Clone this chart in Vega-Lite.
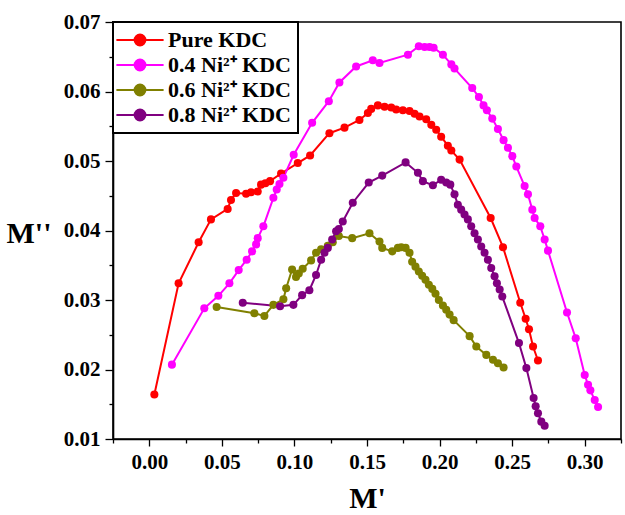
{
  "$schema": "https://vega.github.io/schema/vega-lite/v6.json",
  "width": 508,
  "height": 417,
  "autosize": {"type": "none"},
  "padding": {"left": 113, "top": 22, "right": 4, "bottom": 76},
  "background": "white",
  "config": {
    "view": {"stroke": "#000", "strokeWidth": 1.6},
    "font": "Liberation Serif",
    "axis": {
      "grid": false,
      "domainColor": "#000",
      "domainWidth": 1.6,
      "tickColor": "#000",
      "tickWidth": 1.3,
      "labelFont": "Liberation Serif",
      "labelFontWeight": "bold",
      "labelFontSize": 21,
      "labelColor": "#000",
      "labelOverlap": false,
      "labelFlush": false,
      "titleFont": "Liberation Serif",
      "titleFontWeight": "bold",
      "titleFontSize": 30,
      "titleColor": "#000"
    }
  },
  "data": {
    "values": [
      {"sample": "Pure KDC", "i": 1, "re": 0.0035, "im": 0.0164},
      {"sample": "Pure KDC", "i": 2, "re": 0.0202, "im": 0.0324},
      {"sample": "Pure KDC", "i": 3, "re": 0.034, "im": 0.0383},
      {"sample": "Pure KDC", "i": 4, "re": 0.0425, "im": 0.0416},
      {"sample": "Pure KDC", "i": 5, "re": 0.054, "im": 0.0431},
      {"sample": "Pure KDC", "i": 6, "re": 0.0563, "im": 0.0444},
      {"sample": "Pure KDC", "i": 7, "re": 0.0598, "im": 0.0454},
      {"sample": "Pure KDC", "i": 8, "re": 0.0667, "im": 0.0453},
      {"sample": "Pure KDC", "i": 9, "re": 0.0701, "im": 0.0455},
      {"sample": "Pure KDC", "i": 10, "re": 0.0747, "im": 0.0456},
      {"sample": "Pure KDC", "i": 11, "re": 0.077, "im": 0.0466},
      {"sample": "Pure KDC", "i": 12, "re": 0.08, "im": 0.0468},
      {"sample": "Pure KDC", "i": 13, "re": 0.0832, "im": 0.0471},
      {"sample": "Pure KDC", "i": 14, "re": 0.0908, "im": 0.0482},
      {"sample": "Pure KDC", "i": 15, "re": 0.1023, "im": 0.0497},
      {"sample": "Pure KDC", "i": 16, "re": 0.1108, "im": 0.0508},
      {"sample": "Pure KDC", "i": 17, "re": 0.1241, "im": 0.054},
      {"sample": "Pure KDC", "i": 18, "re": 0.1345, "im": 0.0548},
      {"sample": "Pure KDC", "i": 19, "re": 0.1448, "im": 0.0559},
      {"sample": "Pure KDC", "i": 20, "re": 0.1506, "im": 0.0569},
      {"sample": "Pure KDC", "i": 21, "re": 0.1529, "im": 0.0575},
      {"sample": "Pure KDC", "i": 22, "re": 0.1575, "im": 0.058},
      {"sample": "Pure KDC", "i": 23, "re": 0.1621, "im": 0.0578},
      {"sample": "Pure KDC", "i": 24, "re": 0.1667, "im": 0.0577},
      {"sample": "Pure KDC", "i": 25, "re": 0.1701, "im": 0.0574},
      {"sample": "Pure KDC", "i": 26, "re": 0.1747, "im": 0.0573},
      {"sample": "Pure KDC", "i": 27, "re": 0.1793, "im": 0.0572},
      {"sample": "Pure KDC", "i": 28, "re": 0.1828, "im": 0.0568},
      {"sample": "Pure KDC", "i": 29, "re": 0.1862, "im": 0.0564},
      {"sample": "Pure KDC", "i": 30, "re": 0.1908, "im": 0.056},
      {"sample": "Pure KDC", "i": 31, "re": 0.1943, "im": 0.0552},
      {"sample": "Pure KDC", "i": 32, "re": 0.1977, "im": 0.0545},
      {"sample": "Pure KDC", "i": 33, "re": 0.2011, "im": 0.0535},
      {"sample": "Pure KDC", "i": 34, "re": 0.2057, "im": 0.0522},
      {"sample": "Pure KDC", "i": 35, "re": 0.2081, "im": 0.0515},
      {"sample": "Pure KDC", "i": 36, "re": 0.2138, "im": 0.0502},
      {"sample": "Pure KDC", "i": 37, "re": 0.2352, "im": 0.0418},
      {"sample": "Pure KDC", "i": 38, "re": 0.2437, "im": 0.0376},
      {"sample": "Pure KDC", "i": 39, "re": 0.2556, "im": 0.0296},
      {"sample": "Pure KDC", "i": 40, "re": 0.2593, "im": 0.0273},
      {"sample": "Pure KDC", "i": 41, "re": 0.2616, "im": 0.0258},
      {"sample": "Pure KDC", "i": 42, "re": 0.2644, "im": 0.0233},
      {"sample": "Pure KDC", "i": 43, "re": 0.2678, "im": 0.0213},

      {"sample": "0.4 Ni²⁺ KDC", "i": 1, "re": 0.0156, "im": 0.0207},
      {"sample": "0.4 Ni²⁺ KDC", "i": 2, "re": 0.0379, "im": 0.0288},
      {"sample": "0.4 Ni²⁺ KDC", "i": 3, "re": 0.0476, "im": 0.0306},
      {"sample": "0.4 Ni²⁺ KDC", "i": 4, "re": 0.0552, "im": 0.0324},
      {"sample": "0.4 Ni²⁺ KDC", "i": 5, "re": 0.0616, "im": 0.0343},
      {"sample": "0.4 Ni²⁺ KDC", "i": 6, "re": 0.0671, "im": 0.0358},
      {"sample": "0.4 Ni²⁺ KDC", "i": 7, "re": 0.0708, "im": 0.037},
      {"sample": "0.4 Ni²⁺ KDC", "i": 8, "re": 0.0736, "im": 0.038},
      {"sample": "0.4 Ni²⁺ KDC", "i": 9, "re": 0.0747, "im": 0.0389},
      {"sample": "0.4 Ni²⁺ KDC", "i": 10, "re": 0.0786, "im": 0.0406},
      {"sample": "0.4 Ni²⁺ KDC", "i": 11, "re": 0.0855, "im": 0.0447},
      {"sample": "0.4 Ni²⁺ KDC", "i": 12, "re": 0.0878, "im": 0.0459},
      {"sample": "0.4 Ni²⁺ KDC", "i": 13, "re": 0.0897, "im": 0.0467},
      {"sample": "0.4 Ni²⁺ KDC", "i": 14, "re": 0.0924, "im": 0.0476},
      {"sample": "0.4 Ni²⁺ KDC", "i": 15, "re": 0.0995, "im": 0.0509},
      {"sample": "0.4 Ni²⁺ KDC", "i": 16, "re": 0.1122, "im": 0.0555},
      {"sample": "0.4 Ni²⁺ KDC", "i": 17, "re": 0.1237, "im": 0.0586},
      {"sample": "0.4 Ni²⁺ KDC", "i": 18, "re": 0.131, "im": 0.0613},
      {"sample": "0.4 Ni²⁺ KDC", "i": 19, "re": 0.1425, "im": 0.0636},
      {"sample": "0.4 Ni²⁺ KDC", "i": 20, "re": 0.154, "im": 0.0645},
      {"sample": "0.4 Ni²⁺ KDC", "i": 21, "re": 0.1586, "im": 0.0641},
      {"sample": "0.4 Ni²⁺ KDC", "i": 22, "re": 0.1782, "im": 0.0653},
      {"sample": "0.4 Ni²⁺ KDC", "i": 23, "re": 0.1857, "im": 0.0665},
      {"sample": "0.4 Ni²⁺ KDC", "i": 24, "re": 0.1897, "im": 0.0664},
      {"sample": "0.4 Ni²⁺ KDC", "i": 25, "re": 0.1931, "im": 0.0664},
      {"sample": "0.4 Ni²⁺ KDC", "i": 26, "re": 0.1959, "im": 0.0663},
      {"sample": "0.4 Ni²⁺ KDC", "i": 27, "re": 0.2023, "im": 0.0653},
      {"sample": "0.4 Ni²⁺ KDC", "i": 28, "re": 0.2081, "im": 0.0639},
      {"sample": "0.4 Ni²⁺ KDC", "i": 29, "re": 0.2103, "im": 0.0633},
      {"sample": "0.4 Ni²⁺ KDC", "i": 30, "re": 0.2225, "im": 0.0605},
      {"sample": "0.4 Ni²⁺ KDC", "i": 31, "re": 0.2271, "im": 0.0592},
      {"sample": "0.4 Ni²⁺ KDC", "i": 32, "re": 0.2303, "im": 0.058},
      {"sample": "0.4 Ni²⁺ KDC", "i": 33, "re": 0.2326, "im": 0.0573},
      {"sample": "0.4 Ni²⁺ KDC", "i": 34, "re": 0.2363, "im": 0.0561},
      {"sample": "0.4 Ni²⁺ KDC", "i": 35, "re": 0.2402, "im": 0.0546},
      {"sample": "0.4 Ni²⁺ KDC", "i": 36, "re": 0.2441, "im": 0.053},
      {"sample": "0.4 Ni²⁺ KDC", "i": 37, "re": 0.2471, "im": 0.0519},
      {"sample": "0.4 Ni²⁺ KDC", "i": 38, "re": 0.2501, "im": 0.0507},
      {"sample": "0.4 Ni²⁺ KDC", "i": 39, "re": 0.2529, "im": 0.0492},
      {"sample": "0.4 Ni²⁺ KDC", "i": 40, "re": 0.2586, "im": 0.0464},
      {"sample": "0.4 Ni²⁺ KDC", "i": 41, "re": 0.2609, "im": 0.0452},
      {"sample": "0.4 Ni²⁺ KDC", "i": 42, "re": 0.2639, "im": 0.043},
      {"sample": "0.4 Ni²⁺ KDC", "i": 43, "re": 0.2655, "im": 0.0418},
      {"sample": "0.4 Ni²⁺ KDC", "i": 44, "re": 0.2694, "im": 0.0406},
      {"sample": "0.4 Ni²⁺ KDC", "i": 45, "re": 0.2724, "im": 0.0387},
      {"sample": "0.4 Ni²⁺ KDC", "i": 46, "re": 0.2747, "im": 0.0371},
      {"sample": "0.4 Ni²⁺ KDC", "i": 47, "re": 0.2878, "im": 0.0282},
      {"sample": "0.4 Ni²⁺ KDC", "i": 48, "re": 0.2938, "im": 0.0245},
      {"sample": "0.4 Ni²⁺ KDC", "i": 49, "re": 0.3, "im": 0.0192},
      {"sample": "0.4 Ni²⁺ KDC", "i": 50, "re": 0.3023, "im": 0.0178},
      {"sample": "0.4 Ni²⁺ KDC", "i": 51, "re": 0.3039, "im": 0.017},
      {"sample": "0.4 Ni²⁺ KDC", "i": 52, "re": 0.3069, "im": 0.0156},
      {"sample": "0.4 Ni²⁺ KDC", "i": 53, "re": 0.3092, "im": 0.0146},

      {"sample": "0.6 Ni²⁺ KDC", "i": 1, "re": 0.0464, "im": 0.029},
      {"sample": "0.6 Ni²⁺ KDC", "i": 2, "re": 0.0724, "im": 0.0281},
      {"sample": "0.6 Ni²⁺ KDC", "i": 3, "re": 0.0793, "im": 0.0277},
      {"sample": "0.6 Ni²⁺ KDC", "i": 4, "re": 0.0855, "im": 0.0293},
      {"sample": "0.6 Ni²⁺ KDC", "i": 5, "re": 0.0924, "im": 0.0301},
      {"sample": "0.6 Ni²⁺ KDC", "i": 6, "re": 0.0943, "im": 0.0317},
      {"sample": "0.6 Ni²⁺ KDC", "i": 7, "re": 0.0984, "im": 0.0344},
      {"sample": "0.6 Ni²⁺ KDC", "i": 8, "re": 0.1011, "im": 0.0333},
      {"sample": "0.6 Ni²⁺ KDC", "i": 9, "re": 0.103, "im": 0.0338},
      {"sample": "0.6 Ni²⁺ KDC", "i": 10, "re": 0.1057, "im": 0.0345},
      {"sample": "0.6 Ni²⁺ KDC", "i": 11, "re": 0.1115, "im": 0.0357},
      {"sample": "0.6 Ni²⁺ KDC", "i": 12, "re": 0.1149, "im": 0.0368},
      {"sample": "0.6 Ni²⁺ KDC", "i": 13, "re": 0.1184, "im": 0.0373},
      {"sample": "0.6 Ni²⁺ KDC", "i": 14, "re": 0.123, "im": 0.0378},
      {"sample": "0.6 Ni²⁺ KDC", "i": 15, "re": 0.1264, "im": 0.0383},
      {"sample": "0.6 Ni²⁺ KDC", "i": 16, "re": 0.1306, "im": 0.0392},
      {"sample": "0.6 Ni²⁺ KDC", "i": 17, "re": 0.1398, "im": 0.0389},
      {"sample": "0.6 Ni²⁺ KDC", "i": 18, "re": 0.1517, "im": 0.0396},
      {"sample": "0.6 Ni²⁺ KDC", "i": 19, "re": 0.1586, "im": 0.0384},
      {"sample": "0.6 Ni²⁺ KDC", "i": 20, "re": 0.1605, "im": 0.0375},
      {"sample": "0.6 Ni²⁺ KDC", "i": 21, "re": 0.1674, "im": 0.037},
      {"sample": "0.6 Ni²⁺ KDC", "i": 22, "re": 0.1713, "im": 0.0375},
      {"sample": "0.6 Ni²⁺ KDC", "i": 23, "re": 0.1736, "im": 0.0376},
      {"sample": "0.6 Ni²⁺ KDC", "i": 24, "re": 0.1766, "im": 0.0375},
      {"sample": "0.6 Ni²⁺ KDC", "i": 25, "re": 0.1793, "im": 0.0368},
      {"sample": "0.6 Ni²⁺ KDC", "i": 26, "re": 0.1811, "im": 0.0355},
      {"sample": "0.6 Ni²⁺ KDC", "i": 27, "re": 0.1834, "im": 0.0348},
      {"sample": "0.6 Ni²⁺ KDC", "i": 28, "re": 0.1857, "im": 0.0341},
      {"sample": "0.6 Ni²⁺ KDC", "i": 29, "re": 0.188, "im": 0.0335},
      {"sample": "0.6 Ni²⁺ KDC", "i": 30, "re": 0.1903, "im": 0.0329},
      {"sample": "0.6 Ni²⁺ KDC", "i": 31, "re": 0.1926, "im": 0.0322},
      {"sample": "0.6 Ni²⁺ KDC", "i": 32, "re": 0.195, "im": 0.0316},
      {"sample": "0.6 Ni²⁺ KDC", "i": 33, "re": 0.1972, "im": 0.0309},
      {"sample": "0.6 Ni²⁺ KDC", "i": 34, "re": 0.1995, "im": 0.03},
      {"sample": "0.6 Ni²⁺ KDC", "i": 35, "re": 0.2023, "im": 0.0292},
      {"sample": "0.6 Ni²⁺ KDC", "i": 36, "re": 0.2046, "im": 0.0286},
      {"sample": "0.6 Ni²⁺ KDC", "i": 37, "re": 0.2069, "im": 0.0279},
      {"sample": "0.6 Ni²⁺ KDC", "i": 38, "re": 0.2097, "im": 0.0271},
      {"sample": "0.6 Ni²⁺ KDC", "i": 39, "re": 0.2207, "im": 0.0248},
      {"sample": "0.6 Ni²⁺ KDC", "i": 40, "re": 0.2253, "im": 0.0233},
      {"sample": "0.6 Ni²⁺ KDC", "i": 41, "re": 0.2322, "im": 0.0221},
      {"sample": "0.6 Ni²⁺ KDC", "i": 42, "re": 0.2368, "im": 0.0214},
      {"sample": "0.6 Ni²⁺ KDC", "i": 43, "re": 0.2402, "im": 0.0209},
      {"sample": "0.6 Ni²⁺ KDC", "i": 44, "re": 0.2441, "im": 0.0203},

      {"sample": "0.8 Ni²⁺ KDC", "i": 1, "re": 0.0644, "im": 0.0296},
      {"sample": "0.8 Ni²⁺ KDC", "i": 2, "re": 0.0901, "im": 0.0291},
      {"sample": "0.8 Ni²⁺ KDC", "i": 3, "re": 0.0993, "im": 0.0293},
      {"sample": "0.8 Ni²⁺ KDC", "i": 4, "re": 0.1053, "im": 0.0307},
      {"sample": "0.8 Ni²⁺ KDC", "i": 5, "re": 0.1103, "im": 0.0314},
      {"sample": "0.8 Ni²⁺ KDC", "i": 6, "re": 0.1149, "im": 0.0336},
      {"sample": "0.8 Ni²⁺ KDC", "i": 7, "re": 0.1184, "im": 0.0358},
      {"sample": "0.8 Ni²⁺ KDC", "i": 8, "re": 0.1207, "im": 0.0368},
      {"sample": "0.8 Ni²⁺ KDC", "i": 9, "re": 0.123, "im": 0.0375},
      {"sample": "0.8 Ni²⁺ KDC", "i": 10, "re": 0.126, "im": 0.0387},
      {"sample": "0.8 Ni²⁺ KDC", "i": 11, "re": 0.1287, "im": 0.0399},
      {"sample": "0.8 Ni²⁺ KDC", "i": 12, "re": 0.1306, "im": 0.0402},
      {"sample": "0.8 Ni²⁺ KDC", "i": 13, "re": 0.1333, "im": 0.0413},
      {"sample": "0.8 Ni²⁺ KDC", "i": 14, "re": 0.1402, "im": 0.044},
      {"sample": "0.8 Ni²⁺ KDC", "i": 15, "re": 0.1512, "im": 0.0469},
      {"sample": "0.8 Ni²⁺ KDC", "i": 16, "re": 0.1605, "im": 0.0479},
      {"sample": "0.8 Ni²⁺ KDC", "i": 17, "re": 0.1766, "im": 0.0498},
      {"sample": "0.8 Ni²⁺ KDC", "i": 18, "re": 0.1851, "im": 0.0483},
      {"sample": "0.8 Ni²⁺ KDC", "i": 19, "re": 0.1885, "im": 0.0471},
      {"sample": "0.8 Ni²⁺ KDC", "i": 20, "re": 0.1954, "im": 0.0465},
      {"sample": "0.8 Ni²⁺ KDC", "i": 21, "re": 0.2011, "im": 0.0473},
      {"sample": "0.8 Ni²⁺ KDC", "i": 22, "re": 0.2046, "im": 0.0469},
      {"sample": "0.8 Ni²⁺ KDC", "i": 23, "re": 0.2074, "im": 0.0466},
      {"sample": "0.8 Ni²⁺ KDC", "i": 24, "re": 0.2103, "im": 0.0452},
      {"sample": "0.8 Ni²⁺ KDC", "i": 25, "re": 0.2126, "im": 0.0437},
      {"sample": "0.8 Ni²⁺ KDC", "i": 26, "re": 0.2149, "im": 0.043},
      {"sample": "0.8 Ni²⁺ KDC", "i": 27, "re": 0.2172, "im": 0.0423},
      {"sample": "0.8 Ni²⁺ KDC", "i": 28, "re": 0.2195, "im": 0.0416},
      {"sample": "0.8 Ni²⁺ KDC", "i": 29, "re": 0.2218, "im": 0.0406},
      {"sample": "0.8 Ni²⁺ KDC", "i": 30, "re": 0.2241, "im": 0.0396},
      {"sample": "0.8 Ni²⁺ KDC", "i": 31, "re": 0.2264, "im": 0.0387},
      {"sample": "0.8 Ni²⁺ KDC", "i": 32, "re": 0.2287, "im": 0.0377},
      {"sample": "0.8 Ni²⁺ KDC", "i": 33, "re": 0.231, "im": 0.0368},
      {"sample": "0.8 Ni²⁺ KDC", "i": 34, "re": 0.2333, "im": 0.0358},
      {"sample": "0.8 Ni²⁺ KDC", "i": 35, "re": 0.2356, "im": 0.0346},
      {"sample": "0.8 Ni²⁺ KDC", "i": 36, "re": 0.2379, "im": 0.0334},
      {"sample": "0.8 Ni²⁺ KDC", "i": 37, "re": 0.2395, "im": 0.0324},
      {"sample": "0.8 Ni²⁺ KDC", "i": 38, "re": 0.2414, "im": 0.0315},
      {"sample": "0.8 Ni²⁺ KDC", "i": 39, "re": 0.2432, "im": 0.0305},
      {"sample": "0.8 Ni²⁺ KDC", "i": 40, "re": 0.2547, "im": 0.0238},
      {"sample": "0.8 Ni²⁺ KDC", "i": 41, "re": 0.2598, "im": 0.0202},
      {"sample": "0.8 Ni²⁺ KDC", "i": 42, "re": 0.2648, "im": 0.0159},
      {"sample": "0.8 Ni²⁺ KDC", "i": 43, "re": 0.2662, "im": 0.0147},
      {"sample": "0.8 Ni²⁺ KDC", "i": 44, "re": 0.2678, "im": 0.0137},
      {"sample": "0.8 Ni²⁺ KDC", "i": 45, "re": 0.2701, "im": 0.0125},
      {"sample": "0.8 Ni²⁺ KDC", "i": 46, "re": 0.2724, "im": 0.0119}
    ]
  },
  "encoding": {
    "x": {
      "field": "re",
      "type": "quantitative",
      "title": "M'",
      "scale": {"domain": [-0.025, 0.325], "nice": false, "zero": false},
      "axis": {
        "values": [-0.025, 0, 0.025, 0.05, 0.075, 0.1, 0.125, 0.15, 0.175, 0.2, 0.225, 0.25, 0.275, 0.3, 0.325],
        "format": ".2f",
        "labelExpr": "abs(datum.value * 20 - round(datum.value * 20)) < 0.001 ? datum.label : ''",
        "tickSize": {"condition": {"test": "abs(datum.value * 20 - round(datum.value * 20)) < 0.001", "value": 7}, "value": 4},
        "labelPadding": 5,
        "titleBaseline": "alphabetic",
        "titleY": 68
      }
    },
    "y": {
      "field": "im",
      "type": "quantitative",
      "title": "M''",
      "scale": {"domain": [0.01, 0.07], "nice": false, "zero": false},
      "axis": {
        "values": [0.01, 0.015, 0.02, 0.025, 0.03, 0.035, 0.04, 0.045, 0.05, 0.055, 0.06, 0.065, 0.07],
        "format": ".2f",
        "labelExpr": "abs(datum.value * 100 - round(datum.value * 100)) < 0.001 ? datum.label : ''",
        "tickSize": {"condition": {"test": "abs(datum.value * 100 - round(datum.value * 100)) < 0.001", "value": 8}, "value": 4},
        "labelPadding": 5,
        "titleAngle": 0,
        "titleAlign": "right",
        "titleBaseline": "middle",
        "titleX": -62,
        "titleY": 211
      }
    },
    "color": {
      "field": "sample",
      "type": "nominal",
      "scale": {
        "domain": ["Pure KDC", "0.4 Ni²⁺ KDC", "0.6 Ni²⁺ KDC", "0.8 Ni²⁺ KDC"],
        "range": ["#ff0000", "#ff00ff", "#808000", "#800080"]
      },
      "legend": {
        "title": null,
        "orient": "top-left",
        "offset": 0,
        "padding": 7,
        "strokeColor": "#000",
        "fillColor": "white",
        "labelFont": "Liberation Serif",
        "labelFontWeight": "bold",
        "labelFontSize": 22,
        "labelColor": "#000",
        "labelLimit": 300,
        "rowPadding": 3,
        "symbolType": "M-5.9,0H5.9M1.35,0A1.35,1.35 0 1 1 -1.35,0A1.35,1.35 0 1 1 1.35,0Z",
        "symbolSize": 64,
        "symbolStrokeWidth": 2,
        "symbolOffset": 9,
        "labelOffset": 17,
        "encode": {
          "legend": {"update": {"strokeWidth": {"value": 2}}},
          "symbols": {
            "update": {
              "fill": {"scale": "color", "field": "value"},
              "stroke": {"scale": "color", "field": "value"},
              "opacity": {"value": 1}
            }
          }
        }
      }
    }
  },
  "layer": [
    {
      "mark": {"type": "line", "strokeWidth": 2},
      "encoding": {"order": {"field": "i", "type": "quantitative"}}
    },
    {
      "mark": {"type": "point", "shape": "circle", "filled": true, "opacity": 1, "size": 65}
    }
  ]
}
